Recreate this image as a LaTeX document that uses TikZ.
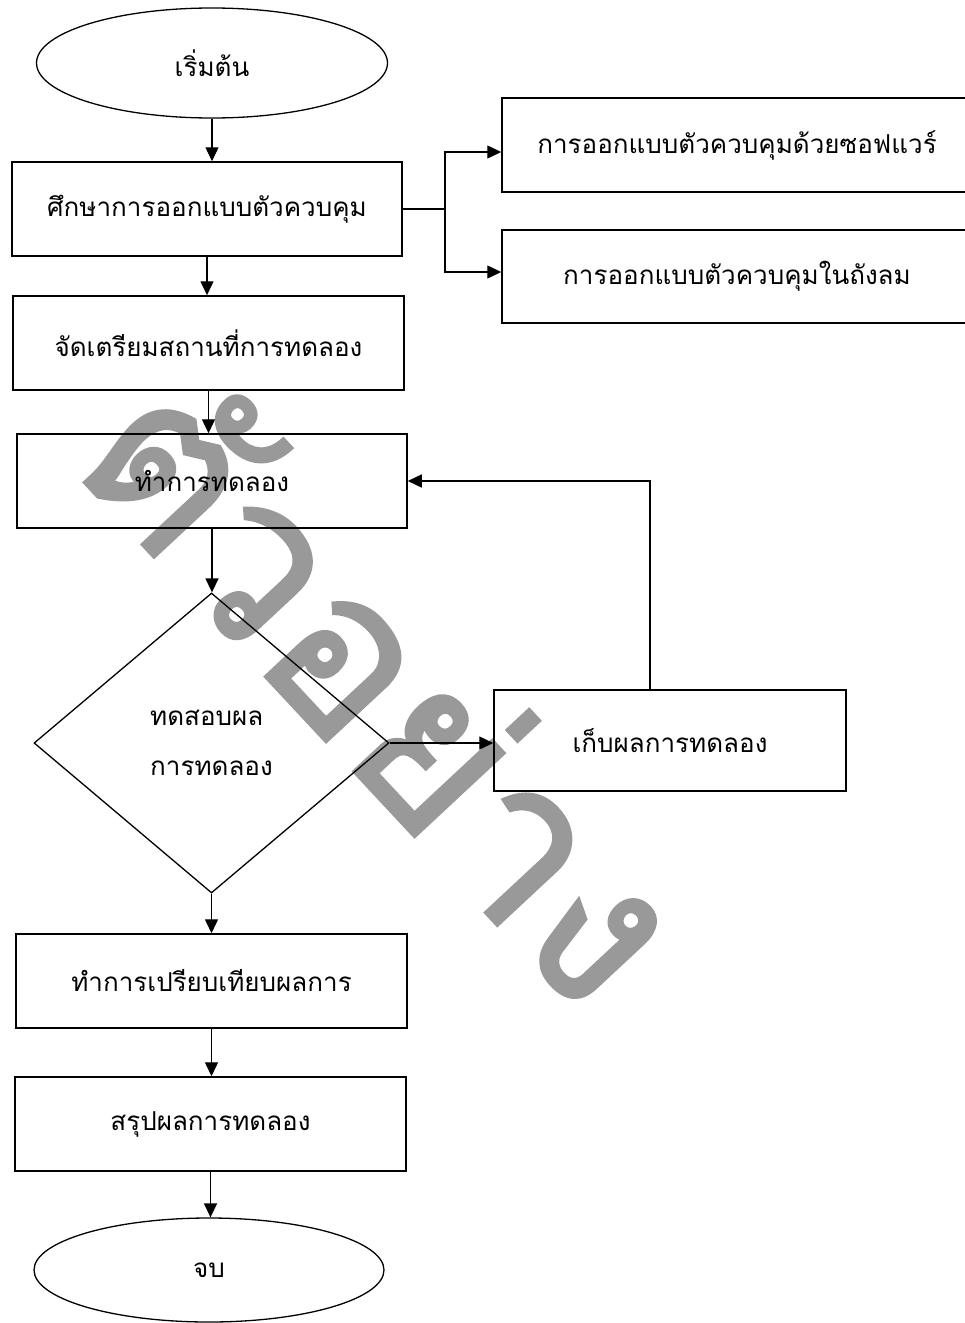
\documentclass[tikz,border=0pt]{standalone}
\usepackage{fontspec}
\newfontfamily\thaifont[Script=Thai]{Loma}
\newfontfamily\markfont[Script=Thai,FakeBold=1.5]{Loma}
\usepackage{tikz}
\usetikzlibrary{positioning, arrows.meta, shapes.geometric}
\definecolor{wmGray}{HTML}{999999}
\definecolor{ink}{HTML}{000000}

\begin{document}
\begin{tikzpicture}[x=1pt,y=-1pt,box/.style={draw=ink, line width=1.5pt, rectangle, minimum height=94pt, inner sep=0pt, font=\thaifont\fontsize{26}{30}\selectfont},term/.style={draw=ink, line width=1.3pt, ellipse, inner sep=0pt, font=\thaifont\fontsize{26}{30}\selectfont},dec/.style={draw=ink, line width=1.3pt, diamond, inner sep=0pt, align=left, font=\thaifont\fontsize{26}{30}\selectfont},arr/.style={draw=ink, line width=1.4pt, -{Triangle[length=14pt,width=13pt]}},wire/.style={draw=ink, line width=1.4pt}]
\useasboundingbox (0,0) rectangle (965,1323);
\node[font=\markfont\fontsize{220}{220}\selectfont, text=wmGray, rotate=-47] (wm) at (390,682) {ตัวอย่าง};
\node[term, minimum width=351pt, minimum height=110pt] (start) at (212,63) {เริ่มต้น};
\node[box, minimum width=390pt] (study) at (207,209) {ศึกษาการออกแบบตัวควบคุม};
\node[box, minimum width=391pt] (prep) at (208.5,343) {จัดเตรียมสถานที่การทดลอง};
\node[box, minimum width=390pt] (exp) at (212,481) {ทำการทดลอง};
\node[dec, minimum width=355pt, minimum height=300pt] (test) at (211.5,743) {ทดสอบผล\\[20pt]การทดลอง};
\node[box, minimum width=352pt, minimum height=101pt] (store) at (670,740.5) {เก็บผลการทดลอง};
\node[box, minimum width=391pt] (compare) at (211.5,981) {ทำการเปรียบเทียบผลการ};
\node[box, minimum width=391pt] (concl) at (210.5,1124) {สรุปผลการทดลอง};
\node[term, minimum width=350pt, minimum height=104pt] (stop) at (209,1270) {จบ};
\node[box, minimum width=470pt] (sw) at (737,145) {การออกแบบตัวควบคุมด้วยซอฟแวร์};
\node[box, minimum width=470pt, minimum height=93pt] (tank) at (737,276.5) {การออกแบบตัวควบคุมในถังลม};
\coordinate (fork) at (445,209);
\draw[arr] (start.south) -- (start.south |- study.north);
\draw[arr] (study.south) -- (study.south |- prep.north);
\draw[arr] (prep.south) -- (prep.south |- exp.north);
\draw[arr] (exp.south) -- (exp.south |- test.north);
\draw[arr] (test.south) -- (test.south |- compare.north);
\draw[arr] (compare.south) -- (compare.south |- concl.north);
\draw[arr] (concl.south) -- (concl.south |- stop.north);
\draw[wire] (study.east) -- (fork);
\draw[arr] (fork) |- ([yshift=-7pt]sw.west);
\draw[arr] (fork) |- ([yshift=4.5pt]tank.west);
\draw[arr] (test.east) -- (test.east -| store.west);
\draw[arr] ([xshift=-20pt]store.north) |- (exp.east);
\end{tikzpicture}
\end{document}
